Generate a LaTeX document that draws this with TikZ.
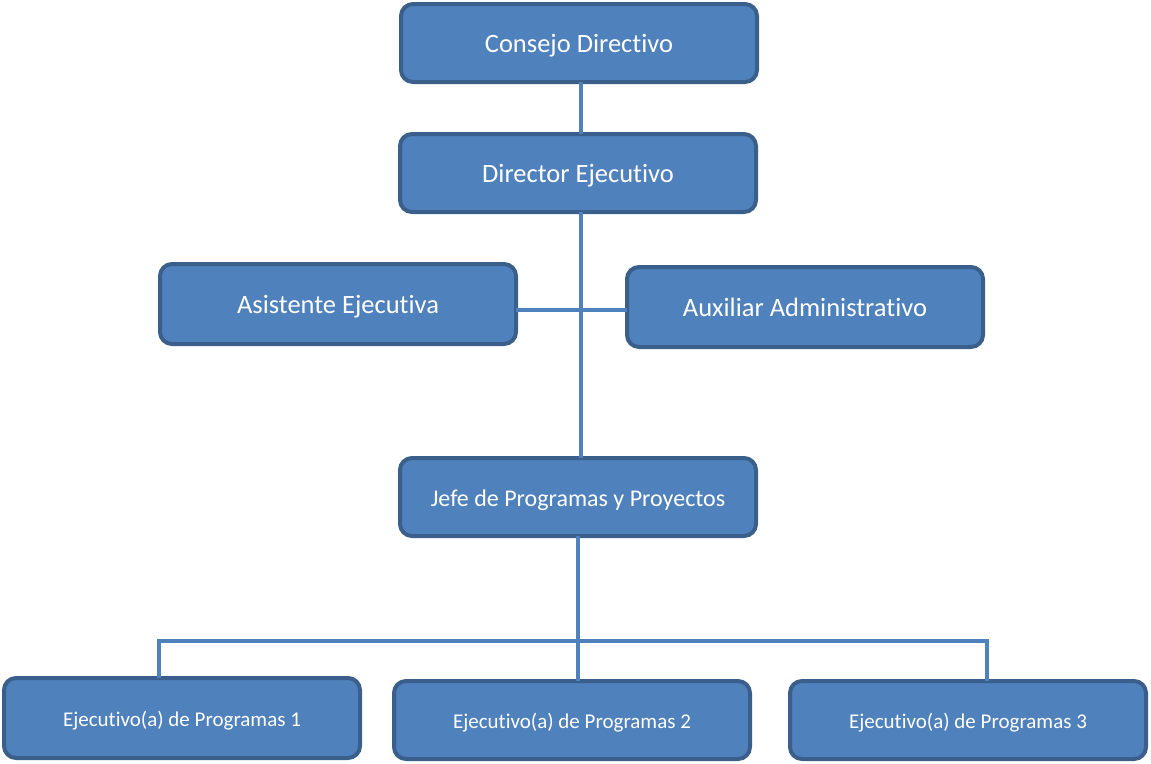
\documentclass[tikz,border=0pt]{standalone}
\usepackage{fontspec}
\setmainfont{Carlito}[Ligatures={NoCommon}]
\definecolor{boxfill}{HTML}{4F81BD}
\definecolor{boxline}{HTML}{3A5F8B}
\definecolor{connc}{HTML}{4F81BD}
\begin{document}
\begin{tikzpicture}[x=1pt,y=-1pt,
  orgbox/.style={draw=boxline, fill=boxfill, line width=4pt, rounded corners=12pt,
    minimum width=356pt, minimum height=78pt, text=white, inner sep=0pt, outer sep=0pt,
    text depth=0pt},
  conn/.style={draw=connc, line width=3.5pt},
  big/.style={font=\fontsize{26.5}{30}\selectfont, text height=19.4pt},
  mid/.style={font=\fontsize{24}{28}\selectfont, text height=19.6pt},
  small/.style={font=\fontsize{21}{24}\selectfont, text height=17.6pt}]
\useasboundingbox (0,0) rectangle (1151,763);
\coordinate (h) at (581,310);
\coordinate (b1) at (159,641);
\coordinate (b2) at (578,641);
\coordinate (b3) at (987,641);
\node[orgbox,big] (consejo) at (579,43) {Consejo Directivo};
\node[orgbox,big] (director) at (578,173) {Director Ejecutivo};
\node[orgbox,big,minimum height=80pt] (asist) at (338,304) {Asistente Ejecutiva};
\node[orgbox,big,minimum height=80pt] (aux) at (805,307) {Auxiliar Administrativo};
\node[orgbox,mid] (jefe) at (578,497) {Jefe de Programas y Proyectos};
\node[orgbox,small,minimum height=80pt] (e1) at (182,718) {Ejecutivo(a) de Programas 1};
\node[orgbox,small] (e2) at (572,720) {Ejecutivo(a) de Programas 2};
\node[orgbox,small] (e3) at (968,720) {Ejecutivo(a) de Programas 3};
\draw[conn] (consejo.south -| h) -- (director.north -| h);
\draw[conn] (director.south -| h) -- (jefe.north -| h);
\draw[conn] (asist.east |- h) -- (aux.west |- h);
\draw[conn] (jefe.south -| b2) -- (e2.north -| b2);
\draw[conn] (b1 |- e1.north) -- (b1) -- (b3) -- (b3 |- e3.north);
\end{tikzpicture}
\end{document}
